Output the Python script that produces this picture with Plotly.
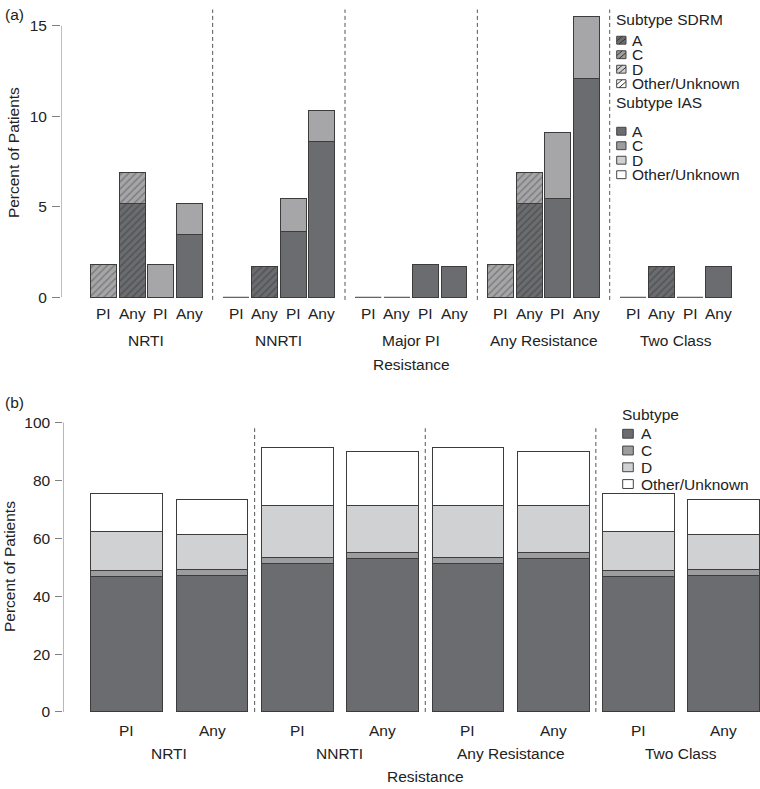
import plotly.graph_objects as go

W, H = 760, 789
FONT = "Liberation Sans, Arial, Helvetica, sans-serif"
FS = 15.5
TXT = "#222222"
AXC = "#808080"
EDGE = "#3c3c3c"

# ---------------- data: panel (a) ----------------
groups_a = ["NRTI", "NNRTI", "Major PI", "Any Resistance", "Two Class"]
kinds_a = ["PI", "Any", "PI", "Any"]          # SDRM PI, SDRM Any, IAS PI, IAS Any
sdrm_pi_A = [0, 0, 0, 0, 0]
sdrm_pi_C = [1.82, 0, 0, 1.82, 0]
sdrm_any_A = [5.17, 1.72, 0, 5.17, 1.72]
sdrm_any_C = [1.72, 0, 0, 1.72, 0]
ias_pi_A = [0, 3.64, 1.82, 5.45, 0]
ias_pi_C = [1.82, 1.82, 0, 3.64, 0]
ias_any_A = [3.45, 8.62, 1.72, 12.07, 1.72]
ias_any_C = [1.72, 1.72, 0, 3.45, 0]
yticks_a = [0, 5, 10, 15]

# ---------------- data: panel (b) ----------------
groups_b = ["NRTI", "NNRTI", "Any Resistance", "Two Class"]
kinds_b = ["PI", "Any"]
b_A = [46.9, 47.2, 51.3, 53.0, 51.3, 53.0, 46.9, 47.2]
b_C = [2.0, 2.1, 1.9, 2.0, 1.9, 2.0, 2.0, 2.1]
b_D = [13.3, 12.0, 18.0, 16.4, 18.0, 16.4, 13.3, 12.0]
b_O = [13.3, 12.1, 20.0, 18.4, 20.0, 18.4, 13.3, 12.1]
yticks_b = [0, 20, 40, 60, 80, 100]

subtypes = ["A", "C", "D", "Other/Unknown"]

# ---------------- styles ----------------
COL_A = "#6b6c70"
COL_C_top = "#a6a6a8"
COL_C = "#9d9d9f"
COL_D = "#d0d1d3"
COL_O = "#ffffff"
HATCH_A = "#3a3a3a"
HATCH_C = "#555555"


def fx(px):
    return px / W


def fy(py):
    return 1 - py / H


# layout geometry of panel (a) (bar units)
A_ORIG, A_SCALE = 90.7, 25.95
GP = 5.1       # group pitch
BP = 1.1       # bar pitch within group
BW_A = 1.0
# panel (b)
B_ORIG, B_SCALE = 126.7, 85.3
BW_B = 0.84

fig = go.Figure()

# ---------------- panel (a) traces ----------------
ng = len(groups_a)
xs_sdrm = [g * GP + k * BP + 0.5 for k in (0, 1) for g in range(ng)]
xs_ias = [g * GP + k * BP + 0.5 for k in (2, 3) for g in range(ng)]

fig.add_trace(go.Bar(
    x=xs_sdrm, y=sdrm_pi_A + sdrm_any_A, width=BW_A, xaxis="x", yaxis="y",
    marker=dict(color=COL_A, line=dict(color=EDGE, width=1),
                pattern=dict(shape="/", size=5, solidity=0.3, fgcolor=HATCH_A, bgcolor=COL_A)),
    showlegend=False, hoverinfo="skip"))
fig.add_trace(go.Bar(
    x=xs_sdrm, y=sdrm_pi_C + sdrm_any_C, width=BW_A, xaxis="x", yaxis="y",
    marker=dict(color=COL_C_top, line=dict(color=EDGE, width=1),
                pattern=dict(shape="/", size=5, solidity=0.3, fgcolor=HATCH_C, bgcolor=COL_C_top)),
    showlegend=False, hoverinfo="skip"))
fig.add_trace(go.Bar(
    x=xs_ias, y=ias_pi_A + ias_any_A, width=BW_A, xaxis="x", yaxis="y",
    marker=dict(color=COL_A, line=dict(color=EDGE, width=1)),
    showlegend=False, hoverinfo="skip"))
fig.add_trace(go.Bar(
    x=xs_ias, y=ias_pi_C + ias_any_C, width=BW_A, xaxis="x", yaxis="y",
    marker=dict(color=COL_C_top, line=dict(color=EDGE, width=1)),
    showlegend=False, hoverinfo="skip"))

# zero-height bars drawn as flat outlines at 0
tot_sdrm = [a + c for a, c in zip(sdrm_pi_A + sdrm_any_A, sdrm_pi_C + sdrm_any_C)]
tot_ias = [a + c for a, c in zip(ias_pi_A + ias_any_A, ias_pi_C + ias_any_C)]
zx, zy = [], []
for xc, t in list(zip(xs_sdrm, tot_sdrm)) + list(zip(xs_ias, tot_ias)):
    if t == 0:
        zx += [xc - BW_A / 2, xc + BW_A / 2, None]
        zy += [0, 0, None]
fig.add_trace(go.Scatter(x=zx, y=zy, mode="lines", line=dict(color="#7a7a7a", width=1),
                         xaxis="x", yaxis="y", showlegend=False, hoverinfo="skip"))

# ---------------- panel (b) traces ----------------
nb = len(b_A)
xs_b = list(range(nb))
for vals, col in ((b_A, COL_A), (b_C, COL_C), (b_D, COL_D), (b_O, COL_O)):
    fig.add_trace(go.Bar(
        x=xs_b, y=vals, width=BW_B, xaxis="x2", yaxis="y2",
        marker=dict(color=col, line=dict(color=EDGE, width=1)),
        showlegend=False, hoverinfo="skip"))

# ---------------- axes ----------------
ua0 = (61 - A_ORIG) / A_SCALE
ua1 = (W - A_ORIG) / A_SCALE
ub0 = (63.3 - B_ORIG) / B_SCALE
ub1 = (W - B_ORIG) / B_SCALE

common_y = dict(showgrid=False, zeroline=False, showline=False, ticks="outside",
                tickcolor=AXC, tickwidth=1, tickfont=dict(family=FONT, size=FS, color=TXT),
                ticklabelstandoff=2)

fig.update_layout(
    width=W, height=H, margin=dict(l=0, r=0, t=0, b=0),
    paper_bgcolor="white", plot_bgcolor="white", barmode="stack",
    font=dict(family=FONT, size=FS, color=TXT),
    xaxis=dict(domain=[fx(61), 1], range=[ua0, ua1], visible=False),
    yaxis=dict(domain=[fy(300.8), fy(1.7)], range=[-0.3, 16.0], tickvals=yticks_a,
               ticklen=8, **common_y),
    xaxis2=dict(domain=[fx(63.3), 1], range=[ub0, ub1], visible=False, anchor="y2"),
    yaxis2=dict(domain=[fy(718.9), fy(419.4)], range=[-1, 101], tickvals=yticks_b,
                ticklen=7, anchor="x2", **common_y),
)

shapes = []
ann = []

# y-axis lines (R style: only between end ticks)
shapes.append(dict(type="line", xref="x", yref="y", x0=ua0, x1=ua0, y0=yticks_a[0], y1=yticks_a[-1],
                   line=dict(color=AXC, width=1)))
shapes.append(dict(type="line", xref="x2", yref="y2", x0=ub0, x1=ub0, y0=yticks_b[0], y1=yticks_b[-1],
                   line=dict(color=AXC, width=1)))

# dashed group separators
for g in range(1, ng):
    xv = g * GP - (GP - 4 * BW_A - 3 * (BP - BW_A)) / 2
    shapes.append(dict(type="line", xref="x", yref="y", x0=xv, x1=xv, y0=-0.15, y1=15.9,
                       line=dict(color="#555555", width=1, dash="4px,3px")))
for g in range(1, len(groups_b)):
    xv = 2 * g - 0.5
    shapes.append(dict(type="line", xref="x2", yref="y2", x0=xv, x1=xv, y0=0, y1=98,
                       line=dict(color="#555555", width=1, dash="4px,3px")))

# x tick labels / group labels panel (a)
for g in range(ng):
    for k in range(4):
        ann.append(dict(xref="x", yref="paper", x=g * GP + k * BP + 0.5, y=fy(311.7),
                        text=kinds_a[k], showarrow=False, xanchor="center", yanchor="middle",
                        font=dict(family=FONT, size=FS, color=TXT)))
    ann.append(dict(xref="x", yref="paper", x=g * GP + (3 * BP + BW_A) / 2, y=fy(339.3),
                    text=groups_a[g], showarrow=False, xanchor="center", yanchor="middle",
                    font=dict(family=FONT, size=FS, color=TXT)))
ann.append(dict(xref="x", yref="paper", x=((ng - 1) * GP + 3 * BP + BW_A) / 2, y=fy(363.3),
                text="Resistance", showarrow=False, xanchor="center", yanchor="middle",
                font=dict(family=FONT, size=FS, color=TXT)))

# x tick labels / group labels panel (b)
for i in range(nb):
    ann.append(dict(xref="x2", yref="paper", x=i, y=fy(734.3), text=kinds_b[i % 2],
                    showarrow=False, xanchor="center", yanchor="middle",
                    font=dict(family=FONT, size=FS, color=TXT)))
for g, name in enumerate(groups_b):
    ann.append(dict(xref="x2", yref="paper", x=2 * g + 0.5, y=fy(757.7), text=name,
                    showarrow=False, xanchor="center", yanchor="middle",
                    font=dict(family=FONT, size=FS, color=TXT)))
ann.append(dict(xref="x2", yref="paper", x=(nb - 1) / 2, y=fy(781.5), text="Resistance",
                showarrow=False, xanchor="center", yanchor="middle",
                font=dict(family=FONT, size=FS, color=TXT)))

# y titles
ann.append(dict(xref="paper", yref="paper", x=fx(13), y=fy(149.2), text="Percent of Patients",
                textangle=-90, showarrow=False, xanchor="center", yanchor="middle",
                font=dict(family=FONT, size=FS, color=TXT)))
ann.append(dict(xref="paper", yref="paper", x=fx(9), y=fy(569), text="Percent of Patients",
                textangle=-90, showarrow=False, xanchor="center", yanchor="middle",
                font=dict(family=FONT, size=FS, color=TXT)))

# panel tags
ann.append(dict(xref="paper", yref="paper", x=fx(3), y=fy(9), text="(a)", showarrow=False,
                xanchor="left", yanchor="middle", font=dict(family=FONT, size=FS, color=TXT)))
ann.append(dict(xref="paper", yref="paper", x=fx(3), y=fy(401.7), text="(b)", showarrow=False,
                xanchor="left", yanchor="middle", font=dict(family=FONT, size=FS, color=TXT)))


# ---------------- manual legends ----------------
def swatch(x0, yc, w, h, fill, hatch=None):
    y0p, y1p = yc + h / 2, yc - h / 2
    shapes.append(dict(type="rect", xref="paper", yref="paper", x0=fx(x0), x1=fx(x0 + w),
                       y0=fy(y0p), y1=fy(y1p), fillcolor=fill, line=dict(color="#444444", width=1)))
    if hatch:
        for c in (-0.4, 0.25):
            pts = []
            for t in (0.0, 1.0):
                xa = max(0.0, c) + t * (min(1.0, 1.0 + c) - max(0.0, c))
                ya = xa - c
                pts.append((x0 + xa * w, y0p - ya * h))
            shapes.append(dict(type="line", xref="paper", yref="paper",
                               x0=fx(pts[0][0]), y0=fy(pts[0][1]), x1=fx(pts[1][0]), y1=fy(pts[1][1]),
                               line=dict(color=hatch, width=1)))


def label(x, yc, text):
    ann.append(dict(xref="paper", yref="paper", x=fx(x), y=fy(yc), text=text, showarrow=False,
                    xanchor="left", yanchor="middle", borderpad=0,
                    font=dict(family=FONT, size=FS, color=TXT)))


leg_fill = [COL_A, COL_C, COL_D, COL_O]
# (a) SDRM
label(615, 14, "Subtype SDRM")
for i, (s, f) in enumerate(zip(subtypes, leg_fill)):
    yc = 34.7 + i * 14.7
    swatch(616.7, yc, 9.3, 8, f, hatch="#333333")
    label(631, yc, s)
# (a) IAS
label(615, 98.3, "Subtype IAS")
for i, (s, f) in enumerate(zip(subtypes, leg_fill)):
    yc = 127 + i * 14.7
    swatch(616.7, yc, 9.3, 8, f)
    label(631, yc, s)
# (b)
label(621, 414, "Subtype")
for i, (s, f) in enumerate(zip(subtypes, leg_fill)):
    yc = 433.8 + i * 17
    swatch(622.7, yc, 10.6, 9, f)
    label(640, yc, s)

fig.update_layout(shapes=shapes, annotations=ann)
fig.write_html(
    "out.html",
    config={"displayModeBar": False},
    post_script="document.body.style.margin='0';document.body.style.overflow='hidden';",
)
